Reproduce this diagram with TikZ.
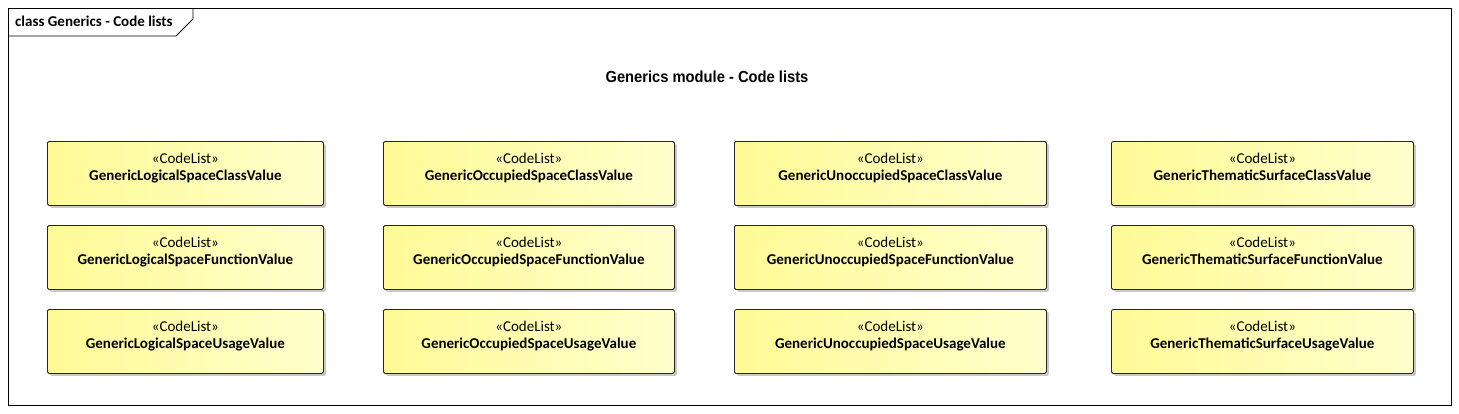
\documentclass[tikz,border=0pt]{standalone}
\usepackage{fontspec}
\setmainfont{Carlito}
\newfontfamily\titlefont{Liberation Sans}
\usetikzlibrary{shadows}
\definecolor{boxL}{RGB}{255,250,150}
\definecolor{boxR}{RGB}{255,255,205}
\tikzset{
  codelist/.style={draw=black!85, line width=0.8pt, rounded corners=1.5pt,
    left color=boxL, right color=boxR,
    drop shadow={shadow xshift=2.5pt, shadow yshift=-2.5pt, fill=black!35, opacity=0.6},
    minimum height=64pt, anchor=north west, inner sep=0pt},
  cltext/.style={align=center, inner sep=0pt, anchor=north, font=\fontsize{15}{17}\selectfont},
  frame/.style={draw=black, line width=0.8pt},
}
\newcommand{\cl}[1]{\guillemotleft CodeList\guillemotright\\\textbf{#1}}
\newcommand{\clbox}[5]{%
  \node[codelist, minimum width=#4pt] (#1) at (#2,#3) {};
  \node[cltext] (#1t) at ([yshift=-12pt]#1.north) {\cl{#5}};
}
\begin{document}
\begin{tikzpicture}[x=1pt,y=-1pt]
\useasboundingbox (0,0) rectangle (1459,413);
\fill[white] (0,0) rectangle (1459,413);
\draw[frame] (8,8) rectangle (1451,405);
\draw[frame] (8,36) -- (176,36) -- (193,19) -- (193,8);
\node[anchor=west, font=\fontsize{15}{17}\selectfont\bfseries, inner sep=0pt] (lbl) at (15,21.5) {class Generics - Code lists};
\node[font=\titlefont\fontsize{16}{19}\selectfont\bfseries, inner sep=0pt, xscale=0.92] (title) at (707,77) {Generics module - Code lists};
\clbox{a1}{47}{141}{276}{GenericLogicalSpaceClassValue}
\clbox{a2}{47}{225}{276}{GenericLogicalSpaceFunctionValue}
\clbox{a3}{47}{309}{276}{GenericLogicalSpaceUsageValue}
\clbox{b1}{383}{141}{291}{GenericOccupiedSpaceClassValue}
\clbox{b2}{383}{225}{291}{GenericOccupiedSpaceFunctionValue}
\clbox{b3}{383}{309}{291}{GenericOccupiedSpaceUsageValue}
\clbox{c1}{734}{141}{312}{GenericUnoccupiedSpaceClassValue}
\clbox{c2}{734}{225}{312}{GenericUnoccupiedSpaceFunctionValue}
\clbox{c3}{734}{309}{312}{GenericUnoccupiedSpaceUsageValue}
\clbox{d1}{1111}{141}{302}{GenericThematicSurfaceClassValue}
\clbox{d2}{1111}{225}{302}{GenericThematicSurfaceFunctionValue}
\clbox{d3}{1111}{309}{302}{GenericThematicSurfaceUsageValue}
\end{tikzpicture}
\end{document}
